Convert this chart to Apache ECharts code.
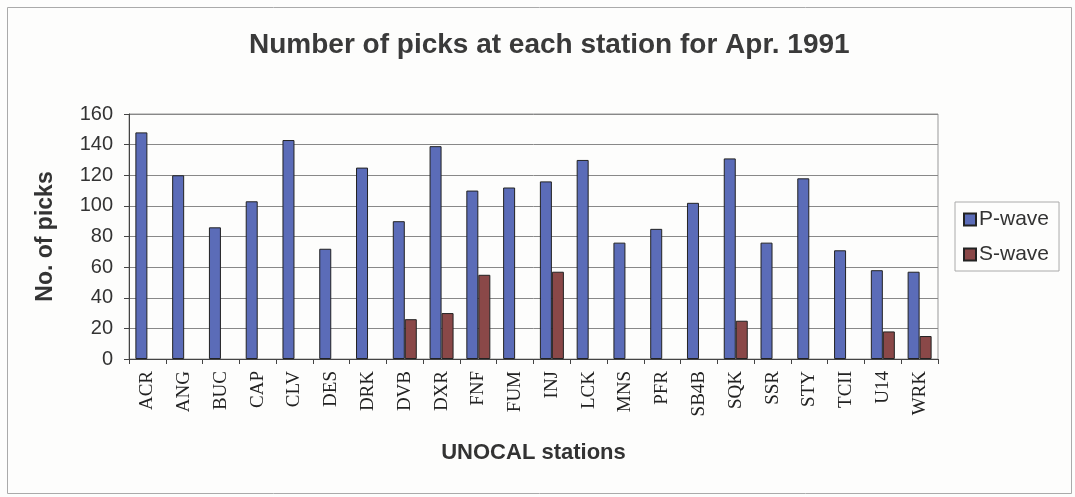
<!DOCTYPE html>
<html><head><meta charset="utf-8">
<script src="https://cdn.jsdelivr.net/npm/echarts@6/dist/echarts.min.js"></script>
<style>html,body{margin:0;padding:0;background:#fff}#c{width:1075px;height:497px}</style>
</head><body><div id="c"></div>
<script>
const stations = ['ACR','ANG','BUC','CAP','CLV','DES','DRK','DVB','DXR','FNF','FUM','INJ','LCK','MNS','PFR','SB4B','SQK','SSR','STY','TCII','U14','WRK'];
const pWave = [148,120,86,103,143,72,125,90,139,110,112,116,130,76,85,102,131,76,118,71,58,57];
const sWave = [null,null,null,null,null,null,null,26,30,55,null,57,null,null,null,null,25,null,null,null,18,15];
const yTicks = [0,20,40,60,80,100,120,140,160];

const chart = echarts.init(document.getElementById('c'));
chart.setOption({
  backgroundColor: '#fdfdfc',
  animation: false,
  title: {
    text: 'Number of picks at each station for Apr. 1991',
    left: 244, top: 26,
    textStyle: {fontFamily: 'Liberation Sans, Arial', fontSize: 28, fontWeight: 'bold', color: '#3a3a3a'}
  },
  graphic: [{
    type: 'rect', left: 5, top: 5,
    shape: {width: 1064, height: 486},
    style: {fill: 'none', stroke: '#aaa', lineWidth: 1}
  }],
  legend: {
    orient: 'vertical', left: 955, top: 202,
    icon: 'rect',
    itemWidth: 12, itemHeight: 12, itemGap: 14,
    padding: [7, 10, 6, 8],
    borderColor: '#aaa', borderWidth: 1,
    textStyle: {fontFamily: 'Liberation Sans, Arial', fontSize: 21, color: '#333', padding: [0, 0, 0, -2]},
    data: ['P-wave', 'S-wave']
  },
  grid: {left: 129, right: 137, top: 114, bottom: 138, show: true, borderColor: '#999', borderWidth: 1},
  xAxis: {
    type: 'category', data: stations,
    name: 'UNOCAL stations', nameLocation: 'middle', nameGap: 83,
    nameTextStyle: {fontFamily: 'Liberation Sans, Arial', fontSize: 22, fontWeight: 'bold', color: '#333'},
    axisLine: {lineStyle: {color: '#444'}},
    axisTick: {show: true, alignWithLabel: false, length: 5, lineStyle: {color: '#444'}},
    axisLabel: {rotate: 90, interval: 0, margin: 12, fontFamily: 'Liberation Serif, Times New Roman', fontSize: 19, color: '#222'}
  },
  yAxis: {
    type: 'value', min: 0, max: 160, interval: 20,
    name: 'No. of picks', nameLocation: 'middle', nameGap: 72,
    nameTextStyle: {fontFamily: 'Liberation Sans, Arial', fontSize: 23, fontWeight: 'bold', color: '#333'},
    axisLine: {show: true, lineStyle: {color: '#444'}},
    axisTick: {show: true, length: 5, lineStyle: {color: '#444'}},
    axisLabel: {fontFamily: 'Liberation Sans, Arial', fontSize: 20, color: '#333', margin: 16,
      formatter: v => yTicks.includes(v) ? String(v) : ''},
    splitLine: {lineStyle: {color: '#888', width: 1}}
  },
  series: [
    {name: 'P-wave', type: 'bar', data: pWave, barWidth: 12, barGap: '0%',
     itemStyle: {color: '#5b6cb8', borderColor: '#222', borderWidth: 1}},
    {name: 'S-wave', type: 'bar', data: sWave, barWidth: 12,
     itemStyle: {color: '#8a4848', borderColor: '#222', borderWidth: 1}}
  ]
});
</script></body></html>
